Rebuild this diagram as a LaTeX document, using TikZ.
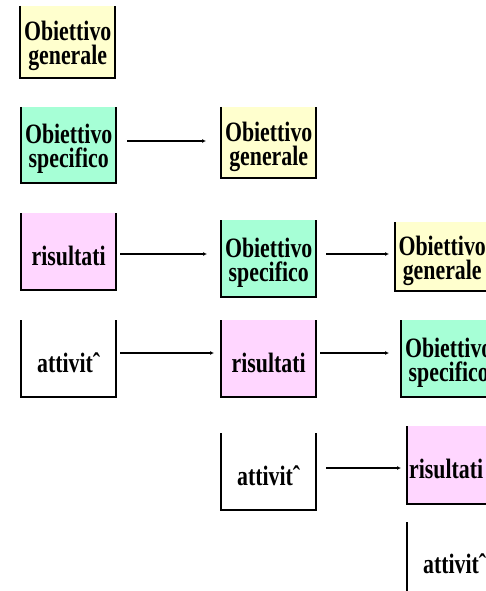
\documentclass[tikz,border=0pt]{standalone}
\usepackage{fontspec}
\setmainfont{Liberation Serif}[FakeStretch=0.78]
\usetikzlibrary{arrows.meta}
\definecolor{cgen}{RGB}{255,255,206}
\definecolor{cspec}{RGB}{166,255,214}
\definecolor{cris}{RGB}{255,214,255}
\begin{document}
\begin{tikzpicture}[x=1pt,y=-1pt,
  box/.style={rectangle, anchor=north west, minimum width=95pt, minimum height=76pt,
    inner xsep=2pt, inner ysep=0pt, align=center,
    font=\fontsize{28}{24}\selectfont\bfseries},
  one/.style={text height=27pt},
  two/.style={text height=51pt},
  gen/.style={box, two, fill=cgen},
  spec/.style={box, two, fill=cspec},
  ris/.style={box, one, fill=cris},
  att/.style={box, one, fill=white},
  ushape/.style={line width=2pt},
  arr/.style={line width=1.4pt, -{Latex[length=4pt,width=4pt]}}]
\useasboundingbox (0,0) rectangle (486,591);
\clip (0,0) rectangle (486,591);
% row 1
\node[gen, minimum height=72pt] (g1) at (20,6) {Obiettivo\\generale};
% row 2
\node[spec] (s2) at (21,107) {Obiettivo\\specifico};
\node[gen, minimum height=71pt] (g2) at (221,107) {Obiettivo\\generale};
% row 3
\node[ris, minimum height=77pt] (r3) at (21,213) {risultati};
\node[spec, minimum height=77pt] (s3) at (221,220) {Obiettivo\\specifico};
\node[gen, minimum width=94pt, minimum height=69pt] (g3) at (395,222) {Obiettivo\\generale};
% row 4
\node[att, minimum height=77pt] (a4) at (21,320) {attivitˆ};
\node[ris, minimum height=77pt] (r4) at (221,320) {risultati};
\node[spec, minimum height=77pt] (s4) at (401,320) {Obiettivo\\specifico};
% row 5
\node[att, minimum height=77pt] (a5) at (221,433) {attivitˆ};
\node[ris, align=left, text width=91pt, inner xsep=1pt, minimum height=78pt] (r5) at (407,426) {risultati};
% row 6
\node[att, minimum height=76pt] (a6) at (407,522) {attivitˆ};
% U-shaped outlines (open at top)
\foreach \n in {g1,s2,g2,r3,s3,g3,a4,r4,s4,a5,r5,a6}{
  \draw[ushape] (\n.north west) -- (\n.south west) -- (\n.south east) -- (\n.north east);
}
% arrows
\draw[arr, shorten <=11pt, shorten >=15pt] (s2.east |- 0,141) -- (g2.west |- 0,141);
\draw[arr, shorten <=4pt, shorten >=14pt] (r3.east |- 0,254) -- (s3.west |- 0,254);
\draw[arr, shorten <=10pt, shorten >=6pt] (s3.east |- 0,254) -- (g3.west |- 0,254);
\draw[arr, shorten <=4pt, shorten >=7pt] (a4.east |- 0,353) -- (r4.west |- 0,353);
\draw[arr, shorten <=4pt, shorten >=12pt] (r4.east |- 0,353) -- (s4.west |- 0,353);
\draw[arr, shorten <=10pt, shorten >=6pt] (a5.east |- 0,468) -- (r5.west |- 0,468);
\end{tikzpicture}
\end{document}
